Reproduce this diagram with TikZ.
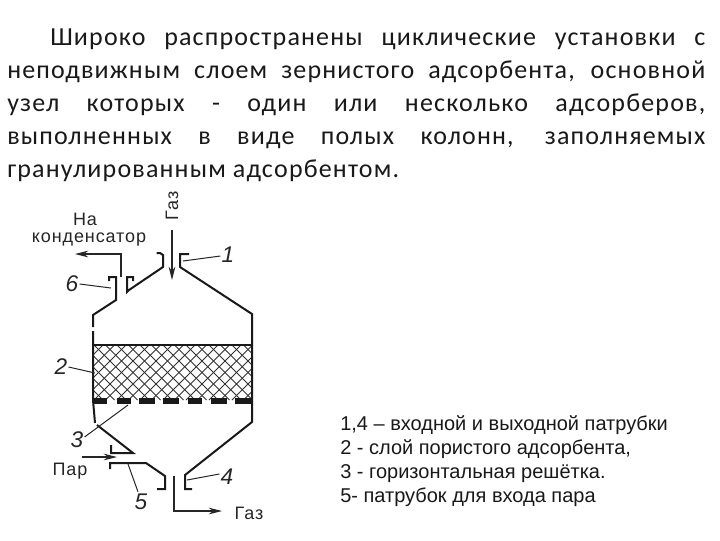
\documentclass[tikz,border=0pt]{standalone}
\usepackage{fontspec}
\setmainfont[LetterSpace=4.5]{Carlito}
\newfontfamily\figfont[LetterSpace=5]{Liberation Sans}
\newfontfamily\notefont{Liberation Sans}
\usetikzlibrary{arrows.meta}
\tikzset{
  wall/.style={line width=1.5pt,line join=miter,black!90},
  leader/.style={line width=0.75pt,black!85},
  flow/.style={line width=0.8pt,black!85,-{Stealth[length=10pt,width=5pt]}},
  lbl/.style={font=\figfont\fontsize{13.5}{14}\selectfont,inner sep=0pt,black!85},
  num/.style={font=\notefont\fontsize{17}{17}\selectfont\itshape,inner sep=0pt,black!85},
  note/.style={font=\notefont\fontsize{15}{18}\selectfont,inner sep=0pt,anchor=north west,align=left,black!90},
  body/.style={font=\fontsize{19.5}{24.75}\selectfont,inner sep=0pt,anchor=north west,text width=523.5pt,align=justify,black!90},
  grid/.style={line width=5.2pt,black!90},
  hatch/.style={line width=0.6pt,black!80}
}
\begin{document}
\begin{tikzpicture}[x=0.75pt,y=-0.75pt]
\useasboundingbox (0,0) rectangle (720,540);
\fill[white] (0,0) rectangle (720,540);
\node[body] (para) at (7,29) {\hspace*{32.25pt}Широко распространены циклические установки с\linebreak неподвижным слоем зернистого адсорбента, основной\linebreak узел которых - один или несколько адсорберов,\linebreak выполненных в виде полых колонн, заполняемых\linebreak гранулированным адсорбентом.};
% hatched bed
\begin{scope}
\clip (94,345) rectangle (252,400);
\foreach \i in {-6,...,22}{
  \draw[hatch] ({94+\i*11.5},345) -- ({94+\i*11.5+55},400);
  \draw[hatch] ({94+\i*11.5},400) -- ({94+\i*11.5+55},345);
}
\end{scope}
\draw[wall] (93,345) -- (252,345);
% vessel
\draw[wall] (109,281) -- (109,277) -- (116,277) -- (116,300) -- (93,315) -- (93,327);
\draw[wall] (93,331) -- (93,400) -- (95,423);
\draw[wall] (133,281) -- (133,277) -- (127,277) -- (127,292) -- (129,290) -- (163,267) -- (163,255) -- (160,253) -- (156.5,253);
\draw[wall] (189,254) -- (180,254) -- (180,267) -- (252,314) -- (252,422) -- (185,475) -- (185,489) -- (192,489);
\draw[wall] (97,425) -- (133,453) -- (111,453) -- (111,445);
\draw[wall] (110,469) -- (110,463) -- (146,463) -- (165,476) -- (165,489) -- (157,489);
% support grid
\foreach \a/\b in {94/107,117/131,139/155,163/179,188/202,211/227,235/252}
  \draw[grid] (\a,401) -- (\b,401);
% labels
\node[lbl] (na) at (85,219) {На};
\node[lbl] (cond) at (89,240) {конденсатор};
\node[lbl,rotate=90] (gasin) at (172,206) {Газ};
\node[lbl] (par) at (70,471) {Пар};
\node[lbl] (gasout) at (249,513) {Газ};
\node[num] (n1) at (228,255) {1};
\node[num] (n2) at (61,367) {2};
\node[num] (n3) at (77,440) {3};
\node[num] (n4) at (227,477) {4};
\node[num] (n5) at (141,502) {5};
\node[num] (n6) at (72,284) {6};
% leaders
\coordinate (e1) at (183,261);
\coordinate (e2) at (95,373);
\coordinate (e3) at (128,405);
\coordinate (e4) at (187,480);
\coordinate (e5) at (128,464);
\coordinate (e6) at (111,288);
\draw[leader] (n1.west) ++(-1,1) -- (e1);
\draw[leader] (n2.east) ++(1,0) -- (e2);
\draw[leader] (n3.east) ++(1,-3) -- (e3);
\draw[leader] (n4.west) ++(-1,-3) -- (e4);
\draw[leader] (n5.north) ++(-3,-2) -- (e5);
\draw[leader] (n6.east) ++(1,0) -- (e6);
% flows
\coordinate (f1s) at (172,230);
\coordinate (f1e) at (172,280);
\draw[flow] (f1s) -- (f1e);
\coordinate (f6s) at (121,277);
\coordinate (f6m) at (121,254);
\coordinate (f6e) at (75,254);
\draw[flow] (f6s) -- (f6m) -- (f6e);
\coordinate (f5s) at (82,457);
\coordinate (f5e) at (117,457);
\draw[flow] (f5s) -- (f5e);
\coordinate (f4s) at (174,476);
\coordinate (f4m) at (174,511);
\coordinate (f4e) at (222,511);
\draw[flow] (f4s) -- (f4m) -- (f4e);
% legend
\node[note] (legend) at (340,415) {1,4 – входной и выходной патрубки\\2 - слой пористого адсорбента,\\3 - горизонтальная решётка.\\5- патрубок для входа пара};
\end{tikzpicture}
\end{document}
